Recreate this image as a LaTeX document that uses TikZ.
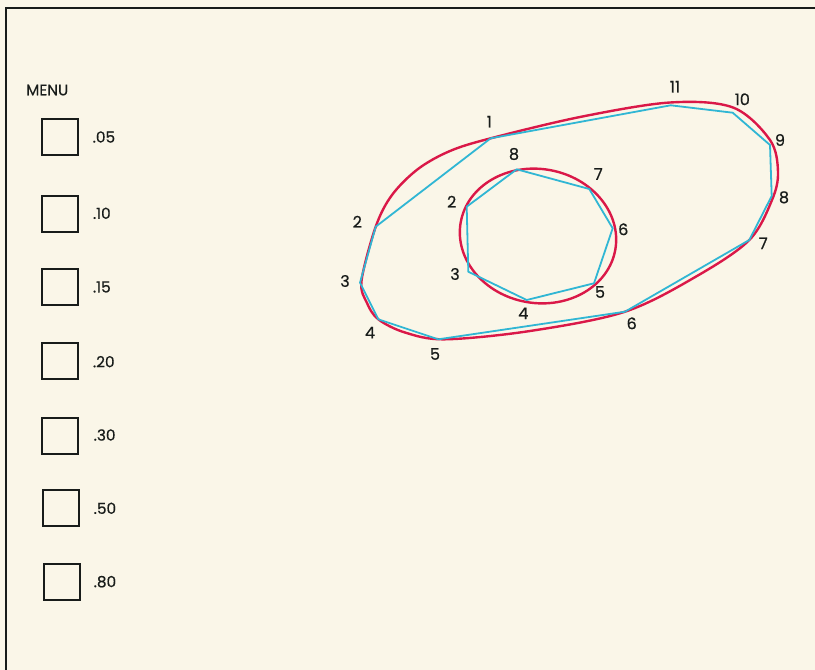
\documentclass[tikz,border=0pt]{standalone}
\usepackage{fontspec}
\setmainfont{Poppins}
\newfontfamily\lblfont{Poppins}[FakeBold=0.6]
\definecolor{paper}{RGB}{250,246,232}
\definecolor{curvered}{RGB}{218,24,72}
\definecolor{polyblue}{RGB}{48,182,212}
\definecolor{ink}{RGB}{24,28,26}
\begin{document}
\begin{tikzpicture}[x=1pt,y=-1pt,
  redcurve/.style={draw=curvered, line width=2.4pt},
  bluepoly/.style={draw=polyblue, line width=1.8pt, line join=round},
  lbl/.style={inner sep=0pt, text=ink, font=\lblfont\fontsize{16}{16}\selectfont},
  menulbl/.style={inner sep=0pt, anchor=west, text=ink, font=\lblfont\fontsize{15.3}{16}\selectfont},
  menubox/.style={draw=ink, line width=2pt, minimum size=36pt, inner sep=0pt}]
\useasboundingbox (0,0) rectangle (815,670);
\fill[paper] (0,0) rectangle (815,670);
\draw[ink, line width=2pt] (6,672) -- (6,8) -- (817,8);

% menu
\node[menulbl] (menu) at (26,90) {MENU};
\node[menubox] (b1) at (59.7,137) {};
\node[menubox] (b2) at (59.7,213.8) {};
\node[menubox] (b3) at (59.8,287) {};
\node[menubox] (b4) at (60,361.3) {};
\node[menubox] (b5) at (60.3,435.5) {};
\node[menubox] (b6) at (61.2,508.3) {};
\node[menubox] (b7) at (61.7,582.2) {};
\node[menulbl] (m1) at (92.5,137) {.05};
\node[menulbl] (m2) at (92.8,213.3) {.10};
\node[menulbl] (m3) at (92.8,287) {.15};
\node[menulbl] (m4) at (92.8,361.7) {.20};
\node[menulbl] (m5) at (93.5,435) {.30};
\node[menulbl] (m6) at (93.5,508.3) {.50};
\node[menulbl] (m7) at (93.5,581.7) {.80};

% outer curve
\draw[redcurve] plot[smooth cycle, tension=0.55] coordinates {
 (361.5,281) (375.7,226.7) (392,195) (418,169) (450,151) (490.7,138.3)
 (580,117) (670,102.5) (733,107.5) (770,140) (778,172) (772,200)
 (749.3,240) (697,276) (625,311.7) (530,331) (445,339.3) (405,332.5)
 (378.3,319.3) (367,303)};

% inner curve
\draw[redcurve, rotate around={-10:(538,236)}] (538,236) ellipse [x radius=78.5pt, y radius=67pt];

% outer polygon vertices
\coordinate (o1) at (490.7,138.3);
\coordinate (o2) at (375.7,226.7);
\coordinate (o3) at (360,282.7);
\coordinate (o4) at (378.3,319.3);
\coordinate (o5) at (438.3,339.3);
\coordinate (o6) at (625,311.7);
\coordinate (o7) at (749.3,240);
\coordinate (o8) at (771.7,196);
\coordinate (o9) at (770,145);
\coordinate (o10) at (732.7,112.7);
\coordinate (o11) at (670.7,105.3);
\draw[bluepoly] (o1) -- (o2) -- (o3) -- (o4) -- (o5) -- (o6) -- (o7) -- (o8) -- (o9) -- (o10) -- (o11) -- cycle;

% inner polygon vertices
\coordinate (i2) at (466.7,206.7);
\coordinate (i3) at (468.3,271.7);
\coordinate (i4) at (526.7,300);
\coordinate (i5) at (594,283.3);
\coordinate (i6) at (612.7,228.3);
\coordinate (i7) at (589.3,189);
\coordinate (i8) at (516.7,169.3);
\draw[bluepoly] (i2) -- (i3) -- (i4) -- (i5) -- (i6) -- (i7) -- (i8) -- cycle;

% outer labels
\node[lbl] (ol1) at (489.3,121.7) {1};
\node[lbl] (ol2) at (357.3,221.7) {2};
\node[lbl] (ol3) at (345,281) {3};
\node[lbl] (ol4) at (370,332.7) {4};
\node[lbl] (ol5) at (435,354) {5};
\node[lbl] (ol6) at (631.7,323.3) {6};
\node[lbl] (ol7) at (763.3,243.3) {7};
\node[lbl] (ol8) at (784,197.3) {8};
\node[lbl] (ol9) at (780,140) {9};
\node[lbl] (ol10) at (742.3,99.3) {10};
\node[lbl] (ol11) at (675,86.7) {11};

% inner labels
\node[lbl] (il2) at (451.7,201.7) {2};
\node[lbl] (il3) at (455,274) {3};
\node[lbl] (il4) at (523.3,313.3) {4};
\node[lbl] (il5) at (600,292) {5};
\node[lbl] (il6) at (623.3,229.3) {6};
\node[lbl] (il7) at (598.3,174) {7};
\node[lbl] (il8) at (514,154) {8};
\end{tikzpicture}
\end{document}
